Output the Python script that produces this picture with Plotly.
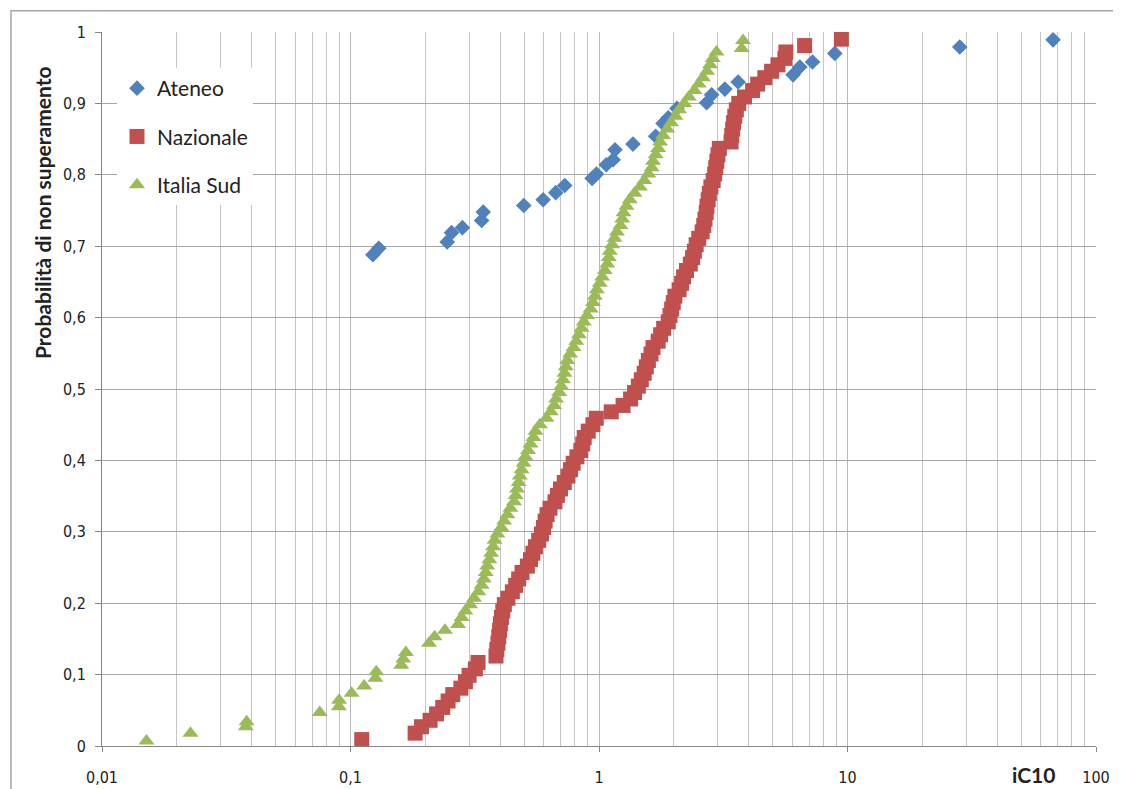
import plotly.graph_objects as go

# ---- data ----
ateneo_x = [0.123, 0.130, 0.245, 0.255, 0.282, 0.337, 0.342, 0.498, 0.596, 0.670,
            0.728, 0.938, 0.977, 1.07, 1.14, 1.16, 1.37, 1.69, 1.81, 1.90,
            2.06, 2.71, 2.84, 3.21, 3.63, 6.04, 6.43, 7.23, 8.89, 28.3, 67.2]
ateneo_p = [0.688, 0.697, 0.706, 0.719, 0.726, 0.736, 0.748, 0.757, 0.765, 0.775,
            0.785, 0.795, 0.801, 0.814, 0.821, 0.835, 0.843, 0.854, 0.872, 0.880,
            0.893, 0.901, 0.912, 0.920, 0.930, 0.940, 0.951, 0.958, 0.970, 0.979, 0.989]

naz_x = [0.111, 0.182, 0.193, 0.209, 0.222, 0.235, 0.247, 0.258, 0.278, 0.290,
         0.300, 0.318, 0.326, 0.385, 0.388, 0.392, 0.395, 0.398, 0.401, 0.405,
         0.410, 0.416, 0.430, 0.448, 0.462, 0.475, 0.490, 0.515, 0.530, 0.542,
         0.555, 0.572, 0.587, 0.598, 0.607, 0.618, 0.635, 0.665, 0.680, 0.700,
         0.725, 0.750, 0.768, 0.787, 0.815, 0.845, 0.860, 0.872, 0.905, 0.945,
         0.975, 1.12, 1.25, 1.34, 1.39, 1.44, 1.48, 1.52, 1.55, 1.58,
         1.62, 1.65, 1.73, 1.77, 1.82, 1.90, 1.93, 1.96, 1.99, 2.02,
         2.10, 2.15, 2.19, 2.25, 2.33, 2.38, 2.42, 2.46, 2.52, 2.60,
         2.64, 2.67, 2.70, 2.72, 2.75, 2.78, 2.82, 2.88, 2.92, 2.95,
         2.98, 3.01, 3.05, 3.40, 3.42, 3.45, 3.48, 3.52, 3.57, 3.65,
         3.85, 4.15, 4.35, 4.65, 4.95, 5.25, 5.60, 5.65, 6.72, 9.45]
naz_p = [0.009, 0.018, 0.027, 0.036, 0.045, 0.054, 0.063, 0.072, 0.081, 0.090,
         0.099, 0.108, 0.117, 0.126, 0.135, 0.144, 0.153, 0.162, 0.171, 0.180,
         0.189, 0.198, 0.207, 0.216, 0.225, 0.234, 0.243, 0.252, 0.261, 0.270,
         0.279, 0.288, 0.297, 0.306, 0.315, 0.324, 0.333, 0.342, 0.351, 0.360,
         0.369, 0.378, 0.387, 0.396, 0.405, 0.414, 0.423, 0.432, 0.441, 0.450,
         0.459, 0.468, 0.477, 0.486, 0.495, 0.504, 0.513, 0.522, 0.531, 0.540,
         0.549, 0.558, 0.567, 0.576, 0.585, 0.594, 0.603, 0.612, 0.621, 0.630,
         0.639, 0.648, 0.657, 0.666, 0.675, 0.684, 0.693, 0.702, 0.711, 0.720,
         0.729, 0.738, 0.747, 0.756, 0.765, 0.774, 0.783, 0.792, 0.801, 0.810,
         0.819, 0.828, 0.837, 0.846, 0.855, 0.864, 0.873, 0.882, 0.891, 0.900,
         0.909, 0.918, 0.927, 0.936, 0.945, 0.954, 0.963, 0.972, 0.981, 0.990]

sud_x = [0.0151, 0.0227, 0.0379, 0.0382, 0.0752, 0.0898, 0.0900, 0.101, 0.1135, 0.126,
         0.127, 0.160, 0.163, 0.167, 0.207, 0.218, 0.240, 0.271, 0.280, 0.290,
         0.303, 0.314, 0.327, 0.337, 0.344, 0.350, 0.355, 0.362, 0.368, 0.375,
         0.380, 0.390, 0.404, 0.415, 0.428, 0.440, 0.455, 0.462, 0.468, 0.475,
         0.480, 0.488, 0.497, 0.505, 0.518, 0.530, 0.545, 0.555, 0.578, 0.615,
         0.640, 0.660, 0.672, 0.692, 0.705, 0.716, 0.726, 0.735, 0.745, 0.765,
         0.790, 0.810, 0.830, 0.850, 0.868, 0.895, 0.925, 0.945, 0.962, 0.980,
         1.007, 1.030, 1.055, 1.080, 1.095, 1.105, 1.130, 1.155, 1.180, 1.220,
         1.240, 1.255, 1.290, 1.330, 1.390, 1.460, 1.520, 1.580, 1.630, 1.650,
         1.690, 1.730, 1.760, 1.810, 1.880, 1.950, 2.030, 2.100, 2.200, 2.300,
         2.420, 2.520, 2.620, 2.720, 2.800, 2.870, 2.970, 3.75, 3.80]
sud_p = [0.007, 0.018, 0.027, 0.034, 0.047, 0.055, 0.064, 0.074, 0.084, 0.095,
         0.104, 0.113, 0.122, 0.131, 0.144, 0.153, 0.162, 0.170, 0.180, 0.189,
         0.198, 0.207, 0.216, 0.225, 0.234, 0.243, 0.252, 0.261, 0.270, 0.279,
         0.288, 0.297, 0.306, 0.315, 0.324, 0.333, 0.342, 0.351, 0.360, 0.369,
         0.378, 0.387, 0.396, 0.405, 0.414, 0.423, 0.432, 0.441, 0.450, 0.459,
         0.468, 0.477, 0.486, 0.495, 0.504, 0.513, 0.522, 0.531, 0.540, 0.549,
         0.558, 0.567, 0.576, 0.585, 0.594, 0.603, 0.612, 0.621, 0.630, 0.639,
         0.648, 0.657, 0.666, 0.675, 0.684, 0.693, 0.702, 0.711, 0.720, 0.729,
         0.738, 0.747, 0.756, 0.765, 0.774, 0.783, 0.792, 0.801, 0.810, 0.819,
         0.828, 0.837, 0.846, 0.855, 0.864, 0.873, 0.882, 0.891, 0.900, 0.909,
         0.918, 0.927, 0.936, 0.945, 0.954, 0.963, 0.972, 0.977, 0.988]

x_tickvals = [0.01, 0.1, 1, 10, 100]
x_ticktext = ["0,01", "0,1", "1", "10", "100"]
y_tickvals = [0, 0.1, 0.2, 0.3, 0.4, 0.5, 0.6, 0.7, 0.8, 0.9, 1]
y_ticktext = ["0", "0,1", "0,2", "0,3", "0,4", "0,5", "0,6", "0,7", "0,8", "0,9", "1"]

BLUE = "#4F81BD"
RED = "#C0504D"
GREEN = "#9BBB59"
TICKFONT = "Liberation Sans Narrow, DejaVu Sans Condensed, Arial Narrow, sans-serif"
LEGFONT = "Lato, Open Sans, sans-serif"

# page has an 8px body margin; plot area must sit at page x 102..1096, y 32..746
W, H = 1113, 781
L, T = 94, 24
PW, PH = 994, 714

def px(xp):   # page x -> paper
    return (xp - 8 - L) / PW

def py(yp):   # page y -> paper
    return (T + PH - (yp - 8)) / PH

fig = go.Figure()
fig.add_trace(go.Scatter(x=ateneo_x, y=ateneo_p, mode="markers", name="Ateneo",
                         legendgroup="a",
                         marker=dict(symbol="diamond", size=12, color=BLUE)))
fig.add_trace(go.Scatter(x=naz_x, y=naz_p, mode="markers", name="Nazionale",
                         legendgroup="b",
                         marker=dict(symbol="square", size=15, color=RED)))
fig.add_trace(go.Scatter(x=sud_x, y=sud_p, mode="markers", name="Italia Sud",
                         legendgroup="c",
                         marker=dict(symbol="triangle-up", size=14, color=GREEN)))

fig.update_layout(
    width=W, height=H,
    margin=dict(l=L, r=W - L - PW, t=T, b=H - T - PH, autoexpand=False),
    paper_bgcolor="white", plot_bgcolor="white",
    separators=",.",
    showlegend=True,
    legend=dict(x=px(117), y=py(68), xanchor="left", yanchor="top",
                bgcolor="white", borderwidth=0, entrywidth=140,
                font=dict(family=LEGFONT, size=21, color="#222222"),
                tracegroupgap=18, itemsizing="trace"),
    xaxis=dict(type="log", range=[-2, 2], automargin=False,
               tickvals=x_tickvals, ticktext=x_ticktext,
               showgrid=True, gridcolor="#b8b8b8", gridwidth=1,
               minor=dict(dtick="D1", showgrid=True, gridcolor="#c4c4c4", gridwidth=1,
                          ticks=""),
               showline=True, linecolor="#868686", linewidth=1,
               ticks="outside", ticklen=5, tickcolor="#868686",
               ticklabelstandoff=12,
               tickfont=dict(family=TICKFONT, size=16, color="#222222"),
               zeroline=False),
    yaxis=dict(range=[0, 1], tickvals=y_tickvals, ticktext=y_ticktext, automargin=False,
               showgrid=True, gridcolor="#a6a6a6", gridwidth=1,
               showline=True, linecolor="#868686", linewidth=1,
               ticks="outside", ticklen=6, tickcolor="#868686",
               ticklabelstandoff=6,
               tickfont=dict(family=TICKFONT, size=16, color="#222222"),
               zeroline=False),
)

# chart-area border
fig.add_shape(type="rect", xref="paper", yref="paper",
              x0=px(11), x1=1.2, y0=-0.2, y1=py(10.7),
              line=dict(color="#a6a6a6", width=1.5), fillcolor="rgba(0,0,0,0)",
              layer="below")

# axis titles
fig.add_annotation(text="<b>iC10</b>", xref="paper", yref="paper",
                   x=px(1033), y=py(774),
                   xanchor="center", yanchor="middle", showarrow=False,
                   font=dict(family="Lato, Open Sans, sans-serif", size=21, color="#222222"))
fig.add_annotation(text="<b>Probabilità di non superamento</b>", xref="paper", yref="paper",
                   x=px(42), y=py(213),
                   xanchor="center", yanchor="middle", showarrow=False, textangle=-90,
                   font=dict(family="Lato, Open Sans, sans-serif", size=21, color="#222222"))

fig.write_html("out.html")
